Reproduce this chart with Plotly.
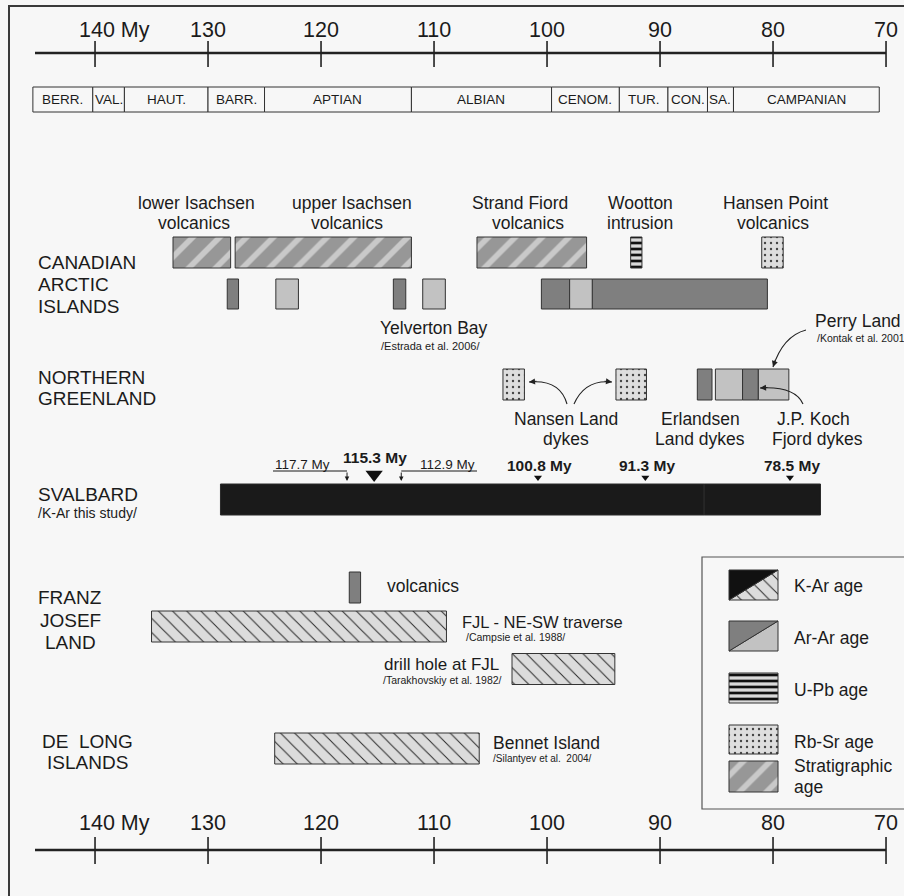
import plotly.graph_objects as go

# ---------------- data ----------------
tick_ages = [140, 130, 120, 110, 100, 90, 80, 70]
tick_labels = ["140 My", "130", "120", "110", "100", "90", "80", "70"]

stage_names = ["BERR.", "VAL.", "HAUT.", "BARR.", "APTIAN", "ALBIAN", "CENOM.", "TUR.", "CON.", "SA.", "CAMPANIAN"]
stage_old = [145.5, 140.2, 137.4, 130.0, 125.0, 112.0, 99.6, 93.6, 89.3, 85.8, 83.5]
stage_young = [140.2, 137.4, 130.0, 125.0, 112.0, 99.6, 93.6, 89.3, 85.8, 83.5, 70.6]

# Canadian Arctic Islands
cai_strat_old = [133.1, 127.6, 106.2]
cai_strat_young = [128.0, 112.0, 96.5]
cai_upb_old = [92.6]
cai_upb_young = [91.6]
cai_rbsr_old = [81.0]
cai_rbsr_young = [79.1]
cai_arar_old = [128.3, 124.0, 113.6, 111.0, 100.5, 98.0, 96.0]
cai_arar_young = [127.3, 122.0, 112.5, 109.0, 98.0, 96.0, 80.5]
cai_arar_kind = ["dark", "light", "dark", "light", "dark", "light", "dark"]

# Northern Greenland
ng_rbsr_old = [103.9, 93.9]
ng_rbsr_young = [102.0, 91.2]
ng_arar_old = [86.7, 85.1, 82.7, 81.3]
ng_arar_young = [85.4, 82.7, 81.3, 78.6]
ng_arar_kind = ["dark", "light", "dark", "light"]

# Svalbard (K-Ar this study)
sv_kar_old = [128.9, 86.1]
sv_kar_young = [86.1, 75.8]
sv_arrow_ages = [117.7, 112.9]
sv_arrow_labels = ["117.7 My", "112.9 My"]
sv_peak_ages = [115.3, 100.8, 91.3, 78.5]
sv_peak_labels = ["115.3 My", "100.8 My", "91.3 My", "78.5 My"]

# Franz Josef Land
fjl_arar_old = [117.5]
fjl_arar_young = [116.5]
fjl_kar_old = [135.0, 103.1]
fjl_kar_young = [108.9, 94.0]

# De Long Islands
dl_kar_old = [124.1]
dl_kar_young = [106.0]

# ---------------- layout helpers ----------------
W, H = 904, 896
AGE0 = 148.41
PXMY = 11.3


def px2age(px):
    return AGE0 - px / PXMY


def age2px(a):
    return (AGE0 - a) * PXMY


NARROW = "Liberation Sans, Arial, Helvetica, sans-serif"
REG = "Liberation Sans, Arial, Helvetica, sans-serif"
INK = "#1b1b1b"
BG = "#f7f7f7"
DARK = "#7f7f7f"
LIGHT = "#c2c2c2"
EDGE = "#333333"

PAT_KAR = dict(shape="\\", fgcolor="#2a2a2a", bgcolor="#dcdcdc", size=10, solidity=0.1, fgopacity=1)
PAT_STRAT = dict(shape="/", fgcolor="#c9c9c9", bgcolor="#979797", size=19, solidity=0.3, fgopacity=1)
PAT_UPB = dict(shape="-", fgcolor="#111111", bgcolor="#dadada", size=6, solidity=0.45, fgopacity=1)
PAT_RBSR = dict(shape=".", fgcolor="#444444", bgcolor="#dedede", size=6, solidity=0.12, fgopacity=1)

fig = go.Figure()


def add_bars(old, young, ycen, color, pattern=None, height=31, line_color=EDGE):
    n = len(old)
    marker = dict(color=color, line=dict(color=line_color, width=1))
    if pattern is not None:
        marker["pattern"] = pattern
    fig.add_trace(go.Bar(
        orientation="h",
        y=[ycen] * n,
        x=[o - y for o, y in zip(old, young)],
        base=young,
        width=height,
        marker=marker,
        hoverinfo="skip",
        showlegend=False,
    ))


# stage bar
add_bars(stage_old, stage_young, 99.5, BG, height=25, line_color="#333")

# Canadian Arctic Islands
add_bars(cai_strat_old, cai_strat_young, 252.5, "#979797", PAT_STRAT)
add_bars(cai_upb_old, cai_upb_young, 252.5, "#dadada", PAT_UPB)
add_bars(cai_rbsr_old, cai_rbsr_young, 252.5, "#dedede", PAT_RBSR)
for kind, col in (("dark", DARK), ("light", LIGHT)):
    o = [a for a, k in zip(cai_arar_old, cai_arar_kind) if k == kind]
    y = [a for a, k in zip(cai_arar_young, cai_arar_kind) if k == kind]
    add_bars(o, y, 294, col, height=30)

# Northern Greenland
add_bars(ng_rbsr_old, ng_rbsr_young, 384.5, "#dedede", PAT_RBSR)
for kind, col in (("dark", DARK), ("light", LIGHT)):
    o = [a for a, k in zip(ng_arar_old, ng_arar_kind) if k == kind]
    y = [a for a, k in zip(ng_arar_young, ng_arar_kind) if k == kind]
    add_bars(o, y, 384.5, col)

# Svalbard
add_bars(sv_kar_old, sv_kar_young, 499.5, "#1a1a1a", line_color="#2a2a2a")

# Franz Josef Land
add_bars(fjl_arar_old, fjl_arar_young, 587.5, DARK)
add_bars(fjl_kar_old[:1], fjl_kar_young[:1], 626.5, "#dcdcdc", PAT_KAR)
add_bars(fjl_kar_old[1:], fjl_kar_young[1:], 669, "#dcdcdc", PAT_KAR)

# De Long
add_bars(dl_kar_old, dl_kar_young, 748.5, "#dcdcdc", PAT_KAR)

# Svalbard markers
fig.add_trace(go.Scatter(
    x=[sv_peak_ages[0]], y=[474.5], mode="markers",
    marker=dict(symbol="triangle-down", size=15, color="#111"),
    hoverinfo="skip", showlegend=False))
fig.add_trace(go.Scatter(
    x=sv_peak_ages[1:], y=[477.5] * (len(sv_peak_ages) - 1), mode="markers",
    marker=dict(symbol="triangle-down", size=7, color="#111"),
    hoverinfo="skip", showlegend=False))

# ---------------- legend swatches ----------------
LX0, LX1 = 729, 778


def poly(pts, fillcolor, pattern=None, lw=1):
    xs = [px2age(p[0]) for p in pts] + [px2age(pts[0][0])]
    ys = [p[1] for p in pts] + [pts[0][1]]
    kw = dict(x=xs, y=ys, mode="lines", fill="toself", fillcolor=fillcolor,
              line=dict(color=EDGE, width=lw), hoverinfo="skip", showlegend=False)
    if pattern is not None:
        kw["fillpattern"] = pattern
    fig.add_trace(go.Scatter(**kw))


# K-Ar
poly([(LX0, 600), (LX1, 570), (LX1, 600), (LX0, 600)], "#dcdcdc", PAT_KAR)
poly([(LX0, 570), (LX1, 570), (LX0, 600)], "#111111")
# Ar-Ar
poly([(LX0, 651), (LX1, 621), (LX1, 651)], LIGHT)
poly([(LX0, 621), (LX1, 621), (LX0, 651)], DARK)
# U-Pb
poly([(LX0, 673), (LX1, 673), (LX1, 703), (LX0, 703)], "#dadada", PAT_UPB)
# Rb-Sr
poly([(LX0, 725), (LX1, 725), (LX1, 754), (LX0, 754)], "#dedede", PAT_RBSR)
# Stratigraphic
poly([(LX0, 761), (LX1, 761), (LX1, 792), (LX0, 792)], "#979797", PAT_STRAT)

# ---------------- shapes ----------------
shapes = []


def hline(x0px, x1px, y, w=1.0, color=INK):
    shapes.append(dict(type="line", xref="x", yref="y", x0=px2age(x0px), x1=px2age(x1px),
                       y0=y, y1=y, line=dict(color=color, width=w), layer="above"))


def vline_age(a, y0, y1, w=1.5, color=INK):
    shapes.append(dict(type="line", xref="x", yref="y", x0=a, x1=a, y0=y0, y1=y1,
                       line=dict(color=color, width=w), layer="above"))


# frame
shapes.append(dict(type="rect", xref="x", yref="y", x0=px2age(9), x1=px2age(912), y0=6, y1=912,
                   line=dict(color="#3a3a3a", width=2), layer="below"))
# legend box
shapes.append(dict(type="rect", xref="x", yref="y", x0=px2age(702), x1=px2age(912), y0=557, y1=809,
                   line=dict(color="#555", width=1.2), layer="below"))

# time axes (label y, line y, tick y0, tick y1)
AXES = ((30, 53, 41, 67), (823, 850, 837, 864))
for ylab, yl, yt0, yt1 in AXES:
    shapes.append(dict(type="line", xref="x", yref="y", x0=px2age(35), x1=tick_ages[-1],
                       y0=yl, y1=yl, line=dict(color="#222", width=2.5), layer="above"))
    for a in tick_ages:
        vline_age(a, yt0, yt1, w=1.6, color="#222")

# Svalbard leader lines
hline(273, age2px(sv_arrow_ages[0]), 471)
hline(age2px(sv_arrow_ages[1]), 477, 471)

# Curved arrows (quadratic Bezier in data coords)
curves = [
    ((567, 404), (560, 379), (529, 382)),
    ((574, 404), (585, 379), (612, 382)),
    ((803, 404), (795, 386), (760, 388)),
    ((806, 330), (783, 336), (773, 367)),
]
for (sx, sy), (cx, cy), (ex, ey) in curves:
    path = "M {:.4f},{:.2f} Q {:.4f},{:.2f} {:.4f},{:.2f}".format(
        px2age(sx), sy, px2age(cx), cy, px2age(ex), ey)
    shapes.append(dict(type="path", xref="x", yref="y", path=path,
                       line=dict(color="#222", width=1.1), layer="above"))

# ---------------- annotations ----------------
ann = []


def text(t, xpx, y, size, font=REG, anchor="left", bold=False, color=INK):
    if bold:
        t = "<b>" + t + "</b>"
    ann.append(dict(text=t, x=px2age(xpx), y=y, xref="x", yref="y", showarrow=False,
                    xanchor=anchor, yanchor="middle", font=dict(family=font, size=size, color=color)))


# axis labels
for a, lab in zip(tick_ages, tick_labels):
    for ylab, _, _, _ in AXES:
        if lab.endswith("My"):
            text(lab, age2px(a) - 18, ylab, 21.5, NARROW, "left")
        else:
            text(lab, age2px(a), ylab, 21.5, NARROW, "center")

# stage labels
for n, o, y in zip(stage_names, stage_old, stage_young):
    text(n, age2px((o + y) / 2), 99.5, 13.5, REG, "center")

# Canadian headers
for t, x, y in [("lower Isachsen", 196, 203), ("volcanics", 194, 223),
                ("upper Isachsen", 352, 203), ("volcanics", 347, 223),
                ("Strand Fiord", 520, 203), ("volcanics", 528, 223),
                ("Wootton", 640, 203), ("intrusion", 640, 223),
                ("Hansen Point", 775, 203), ("volcanics", 773, 223)]:
    text(t, x, y, 17.5, REG, "center")

# Row labels
for t, y in [("CANADIAN", 262), ("ARCTIC", 284), ("ISLANDS", 306),
             ("NORTHERN", 377), ("GREENLAND", 398), ("SVALBARD", 494)]:
    text(t, 36, y, 19, REG, "left")
text("/K-Ar this study/", 36, 513, 14, REG, "left")
for t, y in [("FRANZ", 597), ("JOSEF", 620), ("LAND", 642)]:
    text(t, 70, y, 19, REG, "center")
for t, y in [("DE\u00a0 LONG", 741), ("ISLANDS", 762)]:
    text(t, 87, y, 19, REG, "center")

# Yelverton / Perry Land
text("Yelverton Bay", 378, 328, 17.5, REG)
text("/Estrada et al. 2006/", 379, 346, 11, NARROW)
text("Perry Land", 813, 321, 17.5, NARROW)
text("/Kontak et al. 2001", 815, 338, 10.5, NARROW)

# Greenland labels
for t, x, y in [("Nansen Land", 566, 419), ("dykes", 566, 439),
                ("Erlandsen", 700, 419), ("Land dykes", 700, 439),
                ("J.P. Koch", 813, 419), ("Fjord dykes", 817, 439)]:
    text(t, x, y, 17.5, NARROW, "center")

# Svalbard age labels
text(sv_arrow_labels[0], 273, 464, 13.5, NARROW, "left")
text(sv_arrow_labels[1], 477, 464, 13.5, NARROW, "right")
text(sv_peak_labels[0], age2px(sv_peak_ages[0]) + 1, 457, 15.5, NARROW, "center", bold=True)
for a, lab in zip(sv_peak_ages[1:], sv_peak_labels[1:]):
    text(lab, age2px(a) + 2, 465, 15.5, NARROW, "center", bold=True)
for a in sv_arrow_ages:
    ann.append(dict(x=a, y=481, xref="x", yref="y", ax=0, ay=-10, showarrow=True,
                    arrowhead=2, arrowsize=0.9, arrowwidth=1, arrowcolor=INK, text=""))

# curved arrow heads
for (sx, sy), (cx, cy), (ex, ey) in curves:
    dx, dy = ex - cx, ey - cy
    L = (dx * dx + dy * dy) ** 0.5
    ann.append(dict(x=px2age(ex), y=ey, xref="x", yref="y", ax=-dx / L * 9, ay=-dy / L * 9,
                    showarrow=True, arrowhead=2, arrowsize=1.1, arrowwidth=1.1,
                    arrowcolor="#222", text="", standoff=0))

# FJL labels
text("volcanics", 385, 586, 17.5, REG)
text("FJL - NE-SW traverse", 460, 622, 16.5, NARROW)
text("/Campsie et al. 1988/", 464, 637, 10.5, NARROW)
text("drill hole at FJL", 501, 664, 17, NARROW, "right")
text("/Tarakhovskiy et al. 1982/", 504, 680, 10.5, NARROW, "right")

# De Long labels
text("Bennet Island", 491, 743, 17.5, NARROW)
text("/Silantyev et al.\u00a0 2004/", 491, 758, 10, NARROW)

# legend labels
for t, y in [("K-Ar age", 586), ("Ar-Ar age", 638), ("U-Pb age", 690),
             ("Rb-Sr age", 742), ("Stratigraphic", 766), ("age", 787)]:
    text(t, 792, y, 17.5, REG)

fig.update_layout(
    width=W, height=H,
    margin=dict(l=0, r=0, t=0, b=0),
    paper_bgcolor=BG, plot_bgcolor=BG,
    barmode="overlay",
    showlegend=False,
    xaxis=dict(range=[AGE0, AGE0 - W / PXMY], visible=False, fixedrange=True),
    yaxis=dict(range=[H, 0], visible=False, fixedrange=True),
    shapes=shapes,
    annotations=ann,
)

fig.write_html("out.html", config={"displayModeBar": False},
               post_script="document.body.style.margin='0px';document.body.style.background='#f7f7f7';")
